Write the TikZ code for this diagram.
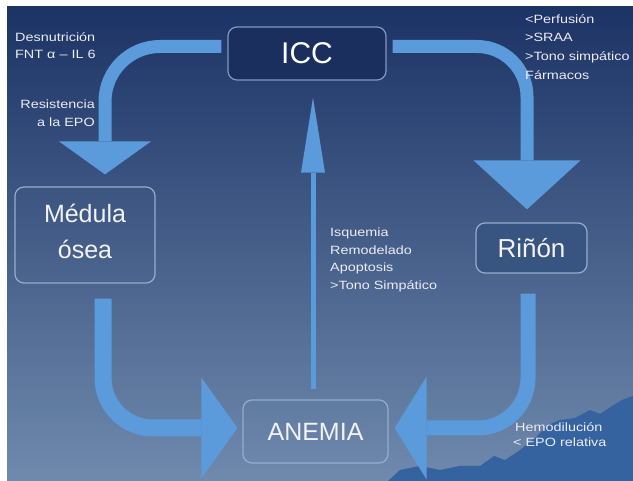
\documentclass[tikz,border=0pt]{standalone}
\usepackage{fontspec}
\setmainfont{Liberation Sans}
\newfontfamily\smallf[FakeStretch=1.2]{Liberation Sans}
\usetikzlibrary{arrows.meta,calc}
\definecolor{bgtop}{HTML}{1C3365}
\definecolor{bgmid}{HTML}{3D5B8B}
\definecolor{bgbot}{HTML}{6F8AAD}
\definecolor{arrowblue}{HTML}{5B9BDB}
\definecolor{iccfill}{HTML}{1B2F5E}
\definecolor{iccborder}{HTML}{7F98C4}
\definecolor{boxborder}{HTML}{97ACCD}
\definecolor{lbltext}{HTML}{ECECF4}
\definecolor{bigtext}{HTML}{F2F2F2}
\definecolor{mountain}{HTML}{3463A0}
\begin{document}
\begin{tikzpicture}[x=1pt,y=-1pt,
  box/.style={draw=boxborder, line width=1.2pt, rounded corners=9pt, inner sep=0pt,
    text=bigtext, align=center},
  iccbox/.style={box, draw=iccborder, fill=iccfill, text=white,
    minimum width=158pt, minimum height=53pt, font=\fontsize{30}{30}\selectfont},
  band/.style={draw=arrowblue, line cap=butt},
  lbl/.style={font=\smallf\fontsize{12}{14}\selectfont, text=lbltext, inner sep=0pt, anchor=base west}]
\useasboundingbox (0,0) rectangle (633,481);
\fill[white] (0,0) rectangle (633,481);
\shade[top color=bgtop, middle color=bgmid, bottom color=bgbot] (7,7) rectangle (633,481);
% mountain silhouette
\fill[mountain] (388,481) -- (400,470) -- (420,466) -- (440,470) -- (460,466) -- (480,466)
  -- (494,456) -- (505,460) -- (520,450) -- (535,438) -- (548,425) -- (560,420) -- (575,418)
  -- (590,410) -- (600,414) -- (612,406) -- (622,400) -- (633,396) -- (633,481) -- cycle;

% boxes
\node[iccbox] (icc) at (307,53.5) {ICC};
\node[box, minimum width=140pt, minimum height=96pt, font=\fontsize{25}{36}\selectfont] (med) at (85,235) {Médula\\ósea\rule[-8pt]{0pt}{0pt}};
\node[box, fill=bgmid!92!black, minimum width=111pt, minimum height=50pt, font=\fontsize{26}{26}\selectfont] (rin) at (531.5,248) {Riñón};
\node[box, minimum width=145pt, minimum height=63pt, font=\fontsize{25}{25}\selectfont] (anemia) at (315.5,431.5) {ANEMIA};

% connectors
\draw[band, line width=13pt, rounded corners=55pt, shorten >=12pt,
  -{Triangle[length=33pt,width=92pt,line width=0pt]}]
  ([yshift=7pt,xshift=-6pt]icc.west) -| ([xshift=20pt]med.north);
\draw[band, line width=13pt, rounded corners=50pt, shorten >=13pt,
  -{Triangle[length=49pt,width=107pt,line width=0pt]}]
  ([yshift=7pt,xshift=6pt]icc.east) -| ([xshift=-4.5pt]rin.north);
\draw[band, line width=17pt, rounded corners=50pt, shorten <=15pt, shorten >=5pt,
  -{Triangle[length=36pt,width=101pt,line width=0pt]}]
  ([xshift=18pt]med.south) |- ([yshift=3.5pt]anemia.west);
\draw[band, line width=15pt, rounded corners=50pt, shorten <=20pt, shorten >=6pt,
  -{Triangle[length=32pt,width=103pt,line width=0pt]}]
  ([xshift=-3.5pt]rin.south) |- ([yshift=3.5pt]anemia.east);
\coordinate (cbot) at ([xshift=-2.5pt]anemia.north);
\coordinate (ctop) at (cbot |- icc.south);
\draw[band, line width=5pt, shorten <=10pt, shorten >=17pt,
  -{Triangle[length=75pt,width=24pt,line width=0pt]}] (cbot) -- (ctop);

% labels
\node[lbl] (d1) at (15,42) {Desnutrición};
\node[lbl] (d2) at (15,59) {FNT α – IL 6};
\node[lbl, anchor=base east] (r1) at (95,109) {Resistencia};
\node[lbl, anchor=base east] (r2) at (95,127) {a la EPO};
\node[lbl] (p1) at (525,24) {<Perfusión};
\node[lbl] (p2) at (525,42) {>SRAA};
\node[lbl] (p3) at (525,61) {>Tono simpático};
\node[lbl] (p4) at (525,80) {Fármacos};
\node[lbl] (i1) at (330,237) {Isquemia};
\node[lbl] (i2) at (330,255) {Remodelado};
\node[lbl] (i3) at (330,272) {Apoptosis};
\node[lbl] (i4) at (330,290) {>Tono Simpático};
\node[lbl] (h1) at (515,432) {Hemodilución};
\node[lbl] (h2) at (513,447) {< EPO relativa};
\end{tikzpicture}
\end{document}
